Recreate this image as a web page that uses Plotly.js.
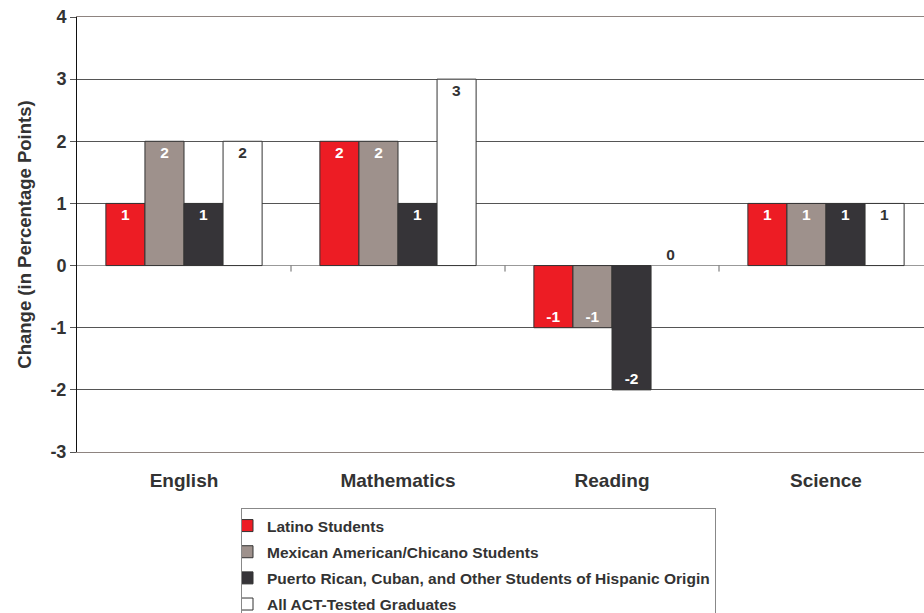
<!DOCTYPE html>
<html>
<head>
<meta charset="utf-8">
<script src="https://cdn.plot.ly/plotly-3.0.1.min.js"></script>
<style>html,body{margin:0;padding:0;background:#fff;}#chart{width:924px;height:613px;}</style>
</head>
<body>
<div id="chart"></div>
<script>
const categories = ['English', 'Mathematics', 'Reading', 'Science'];
const seriesNames = [
  'Latino Students',
  'Mexican American/Chicano Students',
  'Puerto Rican, Cuban, and Other Students of Hispanic Origin',
  'All ACT-Tested Graduates'
];
const latino = [1, 2, -1, 1];
const mexicanAmerican = [2, 2, -1, 1];
const puertoRicanCubanOther = [1, 1, -2, 1];
const allActTested = [2, 3, 0, 1];
const yTickVals = [-3, -2, -1, 0, 1, 2, 3, 4];

const seriesValues = [latino, mexicanAmerican, puertoRicanCubanOther, allActTested];
const fillColors = ['#ed1c24', '#9e918c', '#363438', '#ffffff'];
const textColors = ['#ffffff', '#ffffff', '#ffffff', '#333333'];
const FONT = '"Liberation Sans", Arial, Helvetica, sans-serif';

const traces = seriesValues.map((vals, i) => ({
  type: 'bar',
  name: seriesNames[i],
  legendgroup: 'g' + i,
  x: categories,
  y: vals,
  texttemplate: '%{y}',
  textposition: vals.map(v => v === 0 ? 'outside' : 'inside'),
  insidetextanchor: 'end',
  constraintext: 'none',
  cliponaxis: false,
  insidetextfont: {family: FONT, size: 15.5, weight: 700, color: textColors[i]},
  outsidetextfont: {family: FONT, size: 15.5, weight: 700, color: '#333333'},
  marker: {
    color: fillColors[i],
    line: {color: vals.map(v => v === 0 ? 'rgba(0,0,0,0)' : '#333333'), width: 1}
  },
  hoverinfo: 'skip'
}));

const boundaryTicks = [0.5, 1.5, 2.5, 3.5];
const shapes = boundaryTicks.map(b => ({
  type: 'line', xref: 'x', yref: 'y', ysizemode: 'pixel', yanchor: 0,
  x0: b, x1: b, y0: 0, y1: -6,
  line: {color: '#666666', width: 1}
}));

const layout = {
  width: 924, height: 613,
  margin: {l: 77, r: 0, t: 17, b: 161, autoexpand: false},
  paper_bgcolor: '#ffffff', plot_bgcolor: '#ffffff',
  font: {family: FONT, color: '#333333'},
  barmode: 'group',
  bargap: 0.27,
  bargroupgap: 0,
  showlegend: true,
  legend: {
    orientation: 'v',
    x: (241 - 77) / 847, xanchor: 'left',
    y: -(508 - 452) / 435, yanchor: 'top',
    bgcolor: '#ffffff',
    bordercolor: '#888888', borderwidth: 1,
    font: {family: FONT, size: 15.5, weight: 700, color: '#333333'},
    traceorder: 'grouped',
    tracegroupgap: 3,
    indentation: -15
  },
  xaxis: {
    type: 'category',
    range: [-0.5, -0.5 + 847 / 214],
    showgrid: false,
    zeroline: false,
    showline: true, mirror: true,
    linecolor: '#8e8480', linewidth: 1,
    ticks: '',
    ticklabelstandoff: 11,
    tickfont: {family: FONT, size: 19, weight: 700, color: '#333333'},
    fixedrange: true
  },
  yaxis: {
    range: [-3, 4],
    tickmode: 'array',
    tickvals: yTickVals,
    ticktext: yTickVals.map(String),
    showgrid: true, gridcolor: '#555555', gridwidth: 1,
    zeroline: true, zerolinecolor: '#999999', zerolinewidth: 1,
    showline: true, linecolor: '#111111', linewidth: 1,
    ticks: 'outside', ticklen: 6, tickcolor: '#555555',
    tickfont: {family: FONT, size: 18, weight: 700, color: '#333333'},
    title: {
      text: 'Change (in Percentage Points)',
      font: {family: FONT, size: 18.5, weight: 700, color: '#333333'},
      standoff: 13
    },
    fixedrange: true
  },
  shapes: shapes
};

Plotly.newPlot('chart', traces, layout, {displayModeBar: false, staticPlot: true});
</script>
</body>
</html>
